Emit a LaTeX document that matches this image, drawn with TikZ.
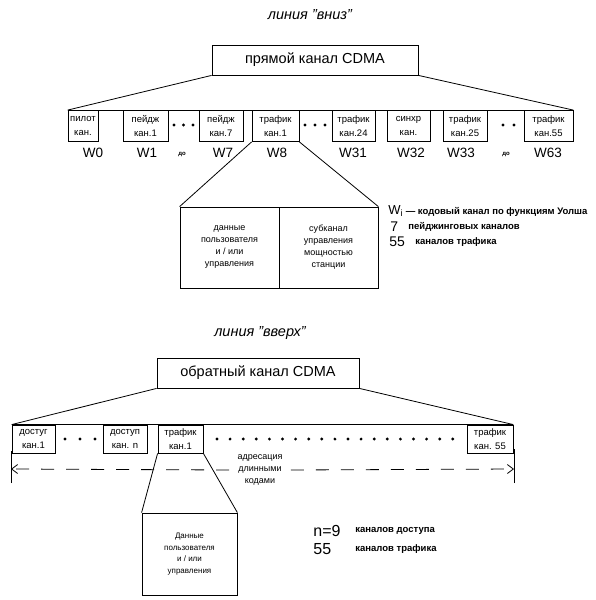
\documentclass[tikz,border=0pt]{standalone}
\usepackage{fontspec}
\setmainfont{Liberation Sans}
\usetikzlibrary{arrows.meta, positioning}

\begin{document}
\begin{tikzpicture}[
    x=1pt, y=-1pt,
    line width=0.8pt,
    title/.style={font=\fontsize{14.5}{16}\selectfont\itshape, inner sep=0pt},
    mainbox/.style={draw, minimum height=30pt, inner sep=0pt, font=\fontsize{14.5}{16}\selectfont},
    chan/.style={draw, minimum height=31pt, inner sep=0pt, font=\fontsize{9.5}{13.5}\selectfont, align=center},
    wlabel/.style={font=\fontsize{13.5}{15}\selectfont, inner sep=0pt},
    upto/.style={font=\fontsize{6}{7}\selectfont\bfseries, inner sep=0pt},
    databox/.style={draw, minimum height=81pt, inner sep=0pt, font=\fontsize{9}{12}\selectfont, align=center},
    legend/.style={anchor=west, inner sep=0pt, font=\fontsize{9.5}{11}\selectfont\bfseries},
    bignum/.style={anchor=west, inner sep=0pt, font=\fontsize{14}{14}\selectfont},
    dot/.style={circle, fill, inner sep=0pt, minimum size=3.2pt},
    addr/.style={dash pattern=on 13pt off 12pt, -{Straight Barb[length=6pt, width=9pt]}}
]
\useasboundingbox (0,0) rectangle (596,600);

% Forward link
\node[title] (ttop) at (310,15) {линия "вниз"};
\node[mainbox, minimum width=206pt] (fwd) at (315,60) {прямой канал CDMA};

% Walsh channels
\node[chan, minimum width=30pt] (pilot) at (83,126) {пилот\\кан.};
\node[chan, minimum width=45pt] (pg1) at (145.5,126) {пейдж\\кан.1};
\node[chan, minimum width=44pt] (pg7) at (221,126) {пейдж\\кан.7};
\node[chan, minimum width=47pt] (tr1) at (275.5,126) {трафик\\кан.1};
\node[chan, minimum width=43pt] (tr24) at (353.5,126) {трафик\\кан.24};
\node[chan, minimum width=43pt] (sync) at (408.5,126) {синхр\\кан.};
\node[chan, minimum width=44pt] (tr25) at (465,126) {трафик\\кан.25};
\node[chan, minimum width=49pt] (tr55) at (548.5,126) {трафик\\кан.55};

\draw (fwd.south west) -- (pilot.north west);
\draw (fwd.south east) -- (tr55.north east);
\draw (pilot.north west) -- (tr55.north east);

\foreach \i in {0,1,2} \node[dot] (pd\i) at ({174+9.5*\i},125) {};
\foreach \i in {0,1,2} \node[dot] (td\i) at ({305+10*\i},125) {};
\foreach \i in {0,1} \node[dot] (sd\i) at ({503+11*\i},125) {};

% Walsh codes
\node[wlabel] (w0) at (93,153) {W0};
\node[wlabel] (w1) at (147,153) {W1};
\node[upto] (upa) at (182,154) {до};
\node[wlabel] (w7) at (223,153) {W7};
\node[wlabel] (w8) at (277,153) {W8};
\node[wlabel] (w31) at (353,153) {W31};
\node[wlabel] (w32) at (411,153) {W32};
\node[wlabel] (w33) at (461,153) {W33};
\node[upto] (upb) at (506,154) {до};
\node[wlabel] (w63) at (548,153) {W63};

% Traffic channel contents
\node[databox, minimum width=99pt] (datL) at (229.5,247.5) {данные\\пользователя\\и / или\\управления};
\node[databox, minimum width=99pt] (datR) at (328.5,247.5) {субканал\\управления\\мощностью\\станции};
\draw (tr1.south west) -- (datL.north west);
\draw (tr1.south east) -- (datR.north east);

% Legend
\node[legend] (lgw) at (388,211) {{\fontsize{13}{13}\mdseries\selectfont W\textsubscript{i}} — кодовый канал по функциям Уолша};
\node[bignum] (n7) at (390,227) {7};
\node[legend] (lgp) at (408,227) {пейджинговых каналов};
\node[bignum] (n55) at (389,242) {55};
\node[legend] (lgt) at (415,242) {каналов трафика};

% Reverse link
\node[title] (tbot) at (260,333) {линия "вверх"};
\node[mainbox, minimum width=202pt] (rev) at (258,373) {обратный канал CDMA};

\node[chan, minimum width=43pt, minimum height=28pt] (ac1) at (33.5,439) {достуг\\кан.1};
\node[chan, minimum width=44pt, minimum height=28pt] (acn) at (125,439) {доступ\\кан. n};
\node[chan, minimum width=45pt, minimum height=28pt] (btr1) at (180.5,439) {трафик\\кан.1};
\node[chan, minimum width=46pt, minimum height=28pt] (btr55) at (490,439) {трафик\\кан. 55};

\draw (rev.south west) -- (ac1.north west);
\draw (rev.south east) -- (btr55.north east);
\draw (ac1.north west) -- (btr55.north east);

\foreach \i in {0,1,2} \node[dot] (ad\i) at ({65+15*\i},439) {};
\foreach \i in {0,...,18} \node[dot] (bd\i) at ({217+13.1*\i},439) {};

% Long code addressing
\node[align=center, inner sep=0pt, font=\fontsize{9}{12}\selectfont] (addr) at (260,470) {адресация\\длинными\\кодами};
\coordinate (lbar) at (11,469);
\coordinate (rbar) at (514,469);
\draw ([yshift=-14pt]lbar) -- ([yshift=18pt]lbar);
\draw ([yshift=-14pt]rbar) -- ([yshift=20pt]rbar);
\draw[addr] ([xshift=-8pt]addr.west) -- (lbar);
\draw[addr] ([xshift=8pt]addr.east) -- (rbar);

\node[databox, minimum width=95pt, minimum height=82pt, font=\fontsize{8}{11.5}\selectfont] (bdat) at (189.5,554) {Данные\\пользователя\\и / или\\управления};
\draw (btr1.south west) -- (bdat.north west);
\draw (btr1.south east) -- (bdat.north east);

% Legend
\node[bignum, font=\fontsize{16}{16}\selectfont] (nn) at (313,531) {n=9};
\node[legend] (lgn) at (355,531) {каналов доступа};
\node[bignum, font=\fontsize{16}{16}\selectfont] (nb) at (313,549) {55};
\node[legend] (lgb) at (355,549) {каналов трафика};
\end{tikzpicture}
\end{document}
